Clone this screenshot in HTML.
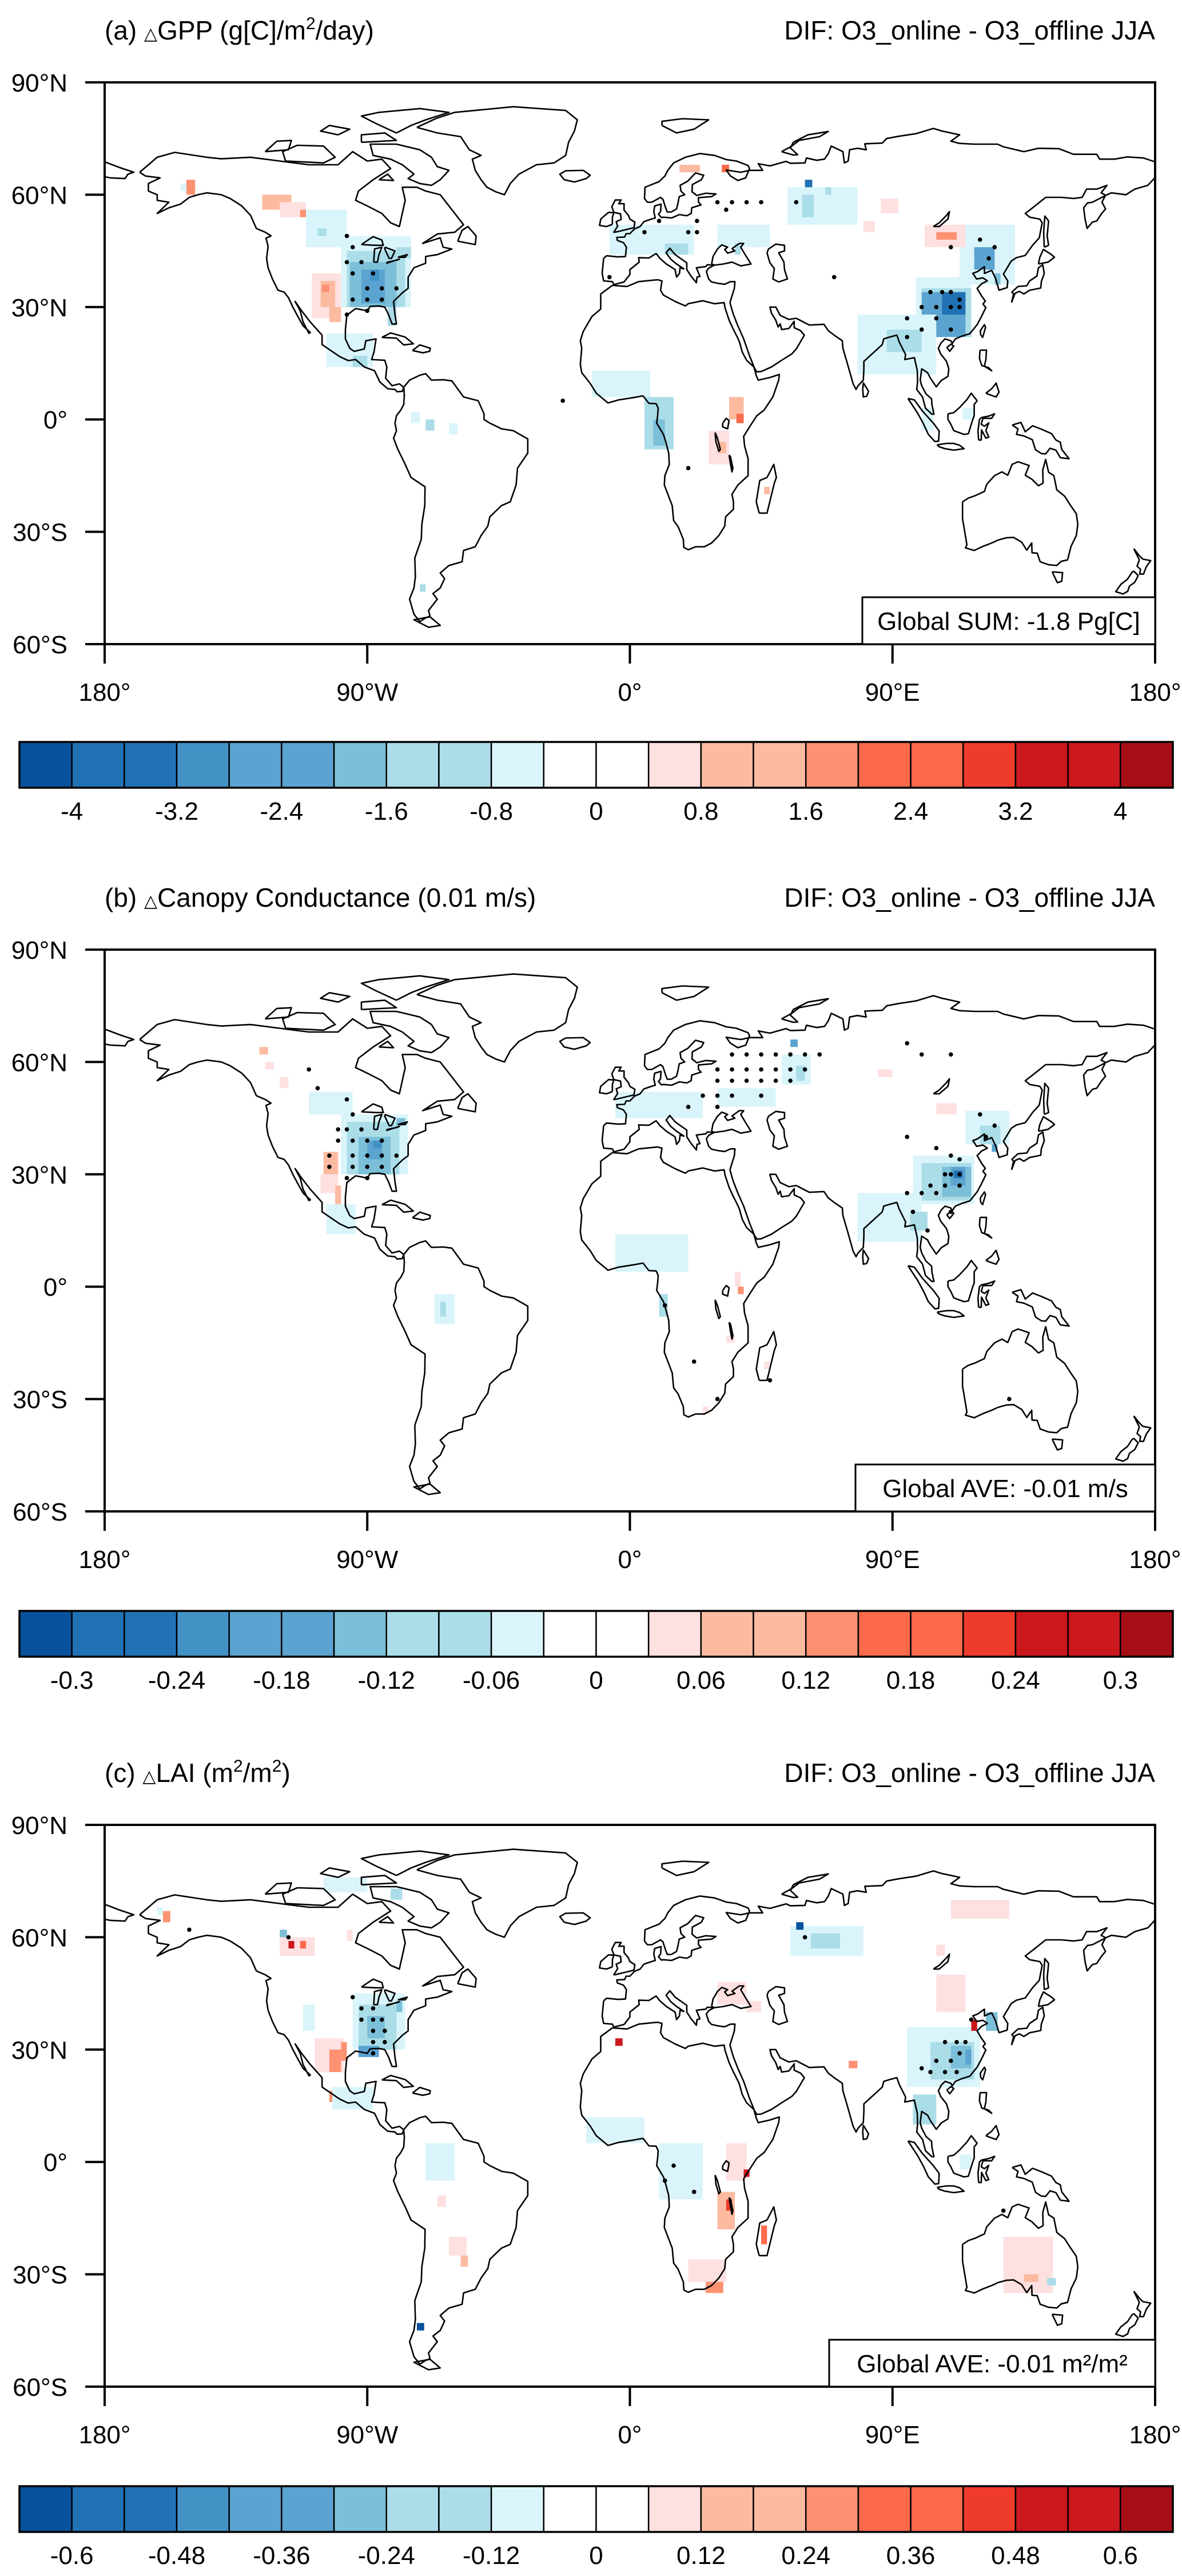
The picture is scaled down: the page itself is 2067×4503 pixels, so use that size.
<!DOCTYPE html>
<html><head><meta charset="utf-8"><title>O3 online - offline JJA differences</title>
<style>
html,body{margin:0;padding:0;background:#fff;}
svg{display:block;font-family:"Liberation Sans",Arial,sans-serif;}
</style></head>
<body>
<svg id="fig" xmlns="http://www.w3.org/2000/svg" width="2067" height="4503" viewBox="0 0 2067 4503"></svg>
<script>
// ---------- data ----------
const latTicks = [90,60,30,0,-30,-60];
const latTickLabels = ["90°N","60°N","30°N","0°","30°S","60°S"];
const lonTicks = [-180,-90,0,90,180];
const lonTickLabels = ["180°","90°W","0°","90°E","180°"];
const cbColors = ['#08519c','#2171b5','#2171b5','#4292c6','#5ba3d0','#5ba3d0','#7cbfd8','#abdde8','#abdde8','#d9f5fb','#ffffff','#ffffff','#fee0e1','#fcbba1','#fcbba1','#fc9272','#fb6a4a','#fb6a4a','#ef3b2c','#cb181d','#cb181d','#a50f15'];
const cbLabelsA = ["-4","-3.2","-2.4","-1.6","-0.8","0","0.8","1.6","2.4","3.2","4"];
const cbLabelsB = ["-0.3","-0.24","-0.18","-0.12","-0.06","0","0.06","0.12","0.18","0.24","0.3"];
const cbLabelsC = ["-0.6","-0.48","-0.36","-0.24","-0.12","0","0.12","0.24","0.36","0.48","0.6"];
const levelMin = [-4, -0.3, -0.6];
const levelStep = [0.4, 0.03, 0.06];

// patches: [lon0, lon1, latS, latN, value]
const gppCells = [
 [-99,-75,30,49,-0.6],[-80,-75,43,46,-1.0],[-97,-77,30,45,-1.0],[-96,-80,30,42,-1.8],[-92,-84,31,40,-2.6],[-89,-86,37,40,-3.0],[-83,-80,25,30,-1.0],
 [-111,-97,46,56,-0.6],[-107,-104,49,51,-1.0],
 [-109,-99,27,39,0.6],[-106,-101,30,37,1.0],[-105.5,-103,34,36,1.8],[-103,-99,26,30,1.0],
 [-126,-116,56,60,1.0],[-120,-111,54,58,0.6],[-113,-111,54,56,1.8],[-152,-149,60,64,1.8],[-154,-152,61,63,-0.6],
 [-104,-88,14,23,-0.6],[-95,-90,14,17,-1.0],
 [-70,-67,-3,0,-1.0],[-62,-59,-4,-1,-0.6],[-75,-72,-1,2,-0.6],[-72,-70,-46,-44,-1.0],
 [-7,22,44,52,-0.6],[12,20,44,47,-1.0],[30,48,46,52,-0.6],[36,38,44,47,-1.0],
 [54,78,52,62,-0.6],[59,63,54,60,-1.0],[60,62.5,62,64,-3.4],[67,69,60,62,-1.0],
 [17,24,66,68,1.0],[31.5,34,66,68,2.2],[86,92,55,59,0.6],[80,84,50,53,0.6],
 [98,117,22,38,-0.6],[100,117,22,35,-1.0],[100,115,22,34,-2.2],[107,115,28,34,-3.4],
 [78,105,12,28,-0.6],[88,100,18,24,-1.0],
 [113,132,36,52,-0.6],[118,125,40,46,-2.2],[125,127,36,39,-1.8],
 [101,115,46,52,0.6],[105,112,48,50,1.8],
 [-13,7,6,13,-0.6],[5,15,-8,6,-1.0],[8,12,-7,0,-1.8],
 [34,39,0,6,1.0],[36.5,39,-1,1.5,2.2],[27,34,-12,-3,0.6],[30,33,-9,-6,1.0],[46,48,-20,-18,1.0],
 [100,104,-3,3,-0.6],[114,118,0,3,-0.6]
];
const gppDots = [[-97,49],[-95,46],[-97,42],[-92,42],[-95,39],[-88,39],[-90,35],[-85,35],[-80,35],[-95,32],[-90,32],[-85,32],[-97,28],[-90,29],
 [30,58],[35,58],[40,58],[45,58],[57,58],[33,56],[10,53],[23,53],[5,50],[20,50],[23,50],[-7,38],[70,38],
 [103,34],[107,34],[110,34],[113,32],[100,30],[105,30],[110,30],[113,30],[95,27],[105,27],[100,24],[110,24],[95,22],[120,48],[125,46],[123,43],[110,46],[-23,5],[20,-13]];

const gcCells = [
 [-110,-95,46,52,-0.045],[-99,-76,30,46,-0.045],[-97,-79,30,44,-0.075],[-93,-82,30,40,-0.135],[-90,-85,34,39,-0.195],[-88,-85,37,39,-0.225],[-80,-77,43,45,-0.135],
 [-105,-100,30,36,0.075],[-106,-100,25,30,0.045],[-101,-99,22,27,0.075],[-125,-122,58,60,0.045],[-120,-117,53,56,0.045],[-127,-124,62,64,0.075],
 [-104,-94,14,22,-0.045],[-67,-60,-10,-2,-0.045],[-65,-63,-8,-4,-0.075],
 [-5,25,45,52,-0.045],[30,50,48,53,-0.045],[52,62,54,62,-0.045],[57,60,55,59,-0.075],[55,57.5,64,66,-0.195],[85,90,56,58,0.045],
 [97,118,22,35,-0.045],[100,117,23,33,-0.075],[107,117,24,32,-0.135],[110,115,27,32,-0.195],[111,114,29,31,-0.255],
 [115,130,38,47,-0.045],[120,127,38,43,-0.075],[124,126,36,38,-0.165],
 [78,100,12,25,-0.045],[96,102,15,20,-0.075],[105,112,46,49,0.045],
 [-5,20,4,14,-0.045],[10,13,-8,-2,-0.075],[37,39,-2,0,0.135],[36,38,0,4,0.045],[33,36,-15,-13,0.045],[46,48,-22,-20,0.045],[25,27,-34,-32,0.045]
];
const gcDots = [[-110,58],[-107,53],[-97,50],[-95,46],[-100,42],[-97,42],[-92,42],[-100,39],[-95,39],[-90,39],[-85,39],[-103,35],[-95,35],[-90,35],[-85,35],[-80,35],[-103,32],[-95,32],[-90,32],[-85,32],[-97,29],[-90,29],
 [35,62],[40,62],[45,62],[50,62],[55,62],[60,62],[65,62],[30,58],[35,58],[40,58],[45,58],[50,58],[55,58],[60,58],[30,55],[35,55],[40,55],[45,55],[50,55],[55,55],[25,51],[30,51],[35,51],[45,51],[20,48],[30,48],[95,65],[100,62],[110,62],[95,40],
 [105,37],[110,35],[113,34],[108,30],[110,30],[113,30],[103,27],[108,27],[113,27],[95,25],[100,25],[105,25],[97,20],[102,15],[110,20],[122,40],[125,43],[120,46],[12,-5],[22,-20],[30,-30],[48,-25],[130,-30]];

const laiCells = [
 [-100,-93,73,75,-0.39],[-105,-90,72,76,-0.09],[-82,-78,70,73,-0.15],[-160,-157.5,64,67,0.27],[-162,-160,66,68,-0.09],
 [-120,-108,55,60,0.09],[-117,-115,57,59,0.55],[-113,-111,57,59,0.33],[-120,-117.5,60,62,-0.27],[-97,-95,59,62,0.09],
 [-95,-77,30,45,-0.09],[-93,-80,30,42,-0.15],[-90,-84,33,39,-0.27],[-93,-86,28,31,-0.33],[-80,-78,40,43,-0.27],
 [-108,-98,24,33,0.09],[-103,-99,24,30,0.27],[-99,-97,27,32,0.27],[-112,-108,35,42,-0.09],[-103,-101,16,19,0.27],
 [-102,-88,14,20,-0.09],
 [-70,-60,-5,5,-0.09],[-62,-56,-25,-20,0.09],[-58,-55.5,-28,-25,0.15],[-73,-70.5,-45,-43,-0.63],[-66,-63,-12,-9,0.09],
 [-15,5,5,12,-0.09],[-5,-2.5,31,33,0.55],[10,25,-10,5,-0.09],[33,40,-5,5,0.09],[39,41,-4,-2,0.55],
 [30,36,-18,-8,0.15],[33,35,-13,-10,0.45],[45,47,-22,-17,0.33],[26,32,-35,-32,0.27],[20,33,-32,-26,0.09],
 [55,80,55,63,-0.09],[62,72,57,61,-0.15],[57,59.5,62,64,-0.63],[110,130,65,70,0.09],[105,108,55,58,0.09],
 [105,115,40,50,0.09],[95,120,20,36,-0.09],[103,118,22,32,-0.15],[110,117,25,31,-0.27],[115,117,26,30,-0.39],
 [122,126,35,40,-0.27],[117,119,35,38,0.55],[75,78,25,27,0.27],[97,105,10,18,-0.15],[113,117,-2,2,-0.09],
 [128,145,-35,-20,0.09],[135,140,-32,-30,0.15],[143,146,-33,-31,-0.15],[30,40,42,48,0.09],[40,45,40,43,0.09]
];
const laiDots = [[-95,44],[-92,41],[-88,41],[-92,38],[-88,38],[-85,38],[-88,35],[-84,35],[-88,32],[-84,32],[-88,29],[-151,62],[-117,60],[60,60],
 [108,32],[112,32],[115,32],[113,29],[105,27],[110,27],[100,25],[103,24],[108,24],[112,24],[117,38],[12,-5],[15,-1],[22,-8],[128,-13]];

// ---------- coastlines [lon,lat] ----------
const coasts = [
 [[-168,66],[-162,70],[-156,71.3],[-145,70],[-140,69.6],[-130,70],[-120,69],[-110,68],[-100,68],[-95,71.5],[-90,69],[-85,69.5],[-82,67],[-88,64],[-93,61],[-94,58.5],[-90,57],[-85,55],[-82,52.5],[-79,51.5],[-78,55],[-77,58.5],[-78,62],[-73,62],[-70,61],[-65,60],[-61,56],[-57,52],[-60,50],[-66,49.5],[-71,47],[-65,48.5],[-64,46],[-61,45.5],[-66,44],[-70,43.5],[-70,41.7],[-74,40.5],[-76,38],[-76,35],[-78,33.8],[-81,31.5],[-80.5,28],[-80,25.5],[-81.5,25.5],[-82.7,28],[-84,30],[-86,30.3],[-89,30.2],[-90,29],[-94,29.6],[-97,27.8],[-97.5,24],[-97.5,21.5],[-96,19],[-94.5,18.2],[-91,18.8],[-90.5,21],[-87,21.5],[-87.7,18],[-88.5,16],[-84,15.8],[-83.3,14],[-83.7,11],[-81.5,9],[-79,9.5],[-77.5,8.6],[-78,7.5],[-79.8,7.4],[-80.5,8],[-83,8.2],[-85.7,10],[-87.5,13],[-91,14],[-94,16],[-96.5,15.7],[-99.5,16.8],[-105.5,20],[-105.5,22.5],[-109.5,26],[-112.5,29],[-114.7,31.5],[-113,29],[-112,26],[-110,23],[-109.5,23.2],[-112,25],[-114,27.8],[-115.5,30],[-117,32.5],[-118.5,34],[-120.6,34.5],[-122.5,37.5],[-124,40.5],[-124.5,43],[-124,46.2],[-124.7,48.4],[-123,49],[-125,50],[-128,51],[-130,54.5],[-133,57],[-137,59],[-140,60],[-145,60.5],[-148,60],[-151,59.3],[-154,57.5],[-158,56.5],[-162,55],[-158,58],[-162,58.5],[-162,60],[-165,61],[-165,63],[-161,64.5],[-166,65],[-168,66]],
 [[-73,78],[-66,80.5],[-60,82],[-40,83.5],[-22,82.5],[-18,80],[-19,77],[-21,74],[-22,70.5],[-26,68.5],[-32,68],[-38,65.5],[-41,63],[-43,60],[-46,60.8],[-49,62],[-51,64],[-53,66.5],[-54,69.5],[-51,70.5],[-55,72],[-58,75.5],[-66,76.5],[-73,78]],
 [[-80,73.5],[-72,72],[-68,70],[-66,67.5],[-62,66.5],[-65,64],[-68,62.5],[-72,63],[-76,64.3],[-74,65.5],[-78,68],[-82,69.5],[-88,70.5],[-89,73.5],[-80,73.5]],
 [[-80,76.5],[-75,78.5],[-70,80],[-62,82],[-72,83],[-86,82],[-92,81],[-87,79],[-80,76.5]],
 [[-118,69],[-105,68.5],[-101,70],[-105,73],[-114,73.2],[-119,71.5],[-118,69]],
 [[-125,71.5],[-121,74.3],[-116,74.5],[-117,72],[-125,71.5]],
 [[-92,74],[-80,74.5],[-84,76.5],[-92,76],[-92,74]],
 [[-100,76],[-96,77.5],[-103,78.5],[-106,77],[-100,76]],
 [[-86,64],[-81,63.8],[-83,65.5],[-86,64]],
 [[-59,47.6],[-53,46.7],[-52.7,49],[-55.5,51.5],[-57.5,50.5],[-59,47.6]],
 [[-85,21.9],[-82,23.1],[-77,22],[-74.2,20.2],[-77.5,19.9],[-80,21.7],[-85,21.9]],
 [[-74.5,18.4],[-72,19.9],[-68.4,19],[-68.6,18.2],[-71,17.8],[-74.5,18.4]],
 [[-77.5,8.6],[-75.5,10.5],[-72,11.8],[-70,12.2],[-68,10.5],[-64,10.6],[-61,10.3],[-57,6],[-52,5],[-50,1.5],[-50,0],[-48,-1],[-44,-2.5],[-40,-3],[-35,-5.2],[-35,-9],[-38.5,-13],[-39,-17.5],[-41,-22],[-44,-23],[-48,-26],[-48.7,-28.5],[-51,-31],[-53,-34],[-57,-35],[-57.5,-38],[-62,-39],[-65,-41],[-63.5,-42.5],[-65,-45],[-67.5,-46.5],[-66,-48],[-69,-51],[-68.5,-52.5],[-70,-53],[-72,-54],[-74,-52],[-75.5,-48],[-74,-45],[-73.5,-42],[-73.7,-37],[-71.5,-32],[-71.3,-28],[-70.3,-23],[-70.2,-18],[-75,-15.5],[-77,-12],[-79.5,-8],[-81,-5],[-80,-3],[-80.5,-1],[-80,1],[-78.5,2.5],[-77.5,4],[-77.3,6.5],[-77.5,8.6]],
 [[-68.5,-52.7],[-65,-55],[-69,-55.5],[-74,-53.5],[-68.5,-52.7]],
 [[-6,35.8],[-10,33.5],[-10,29.5],[-13,27.5],[-16,23.5],[-17,21],[-16.5,19],[-17,14.7],[-16.5,12.5],[-15,11],[-13.5,9.5],[-11.5,7],[-7.5,4.4],[-4,5.2],[1,5.8],[4.5,6.3],[6.5,4.3],[9,4.2],[9.7,3],[9.5,1],[9.2,-1],[11.5,-4],[12.3,-6],[13.3,-9],[13.5,-12],[12,-15],[11.8,-17.5],[14.5,-23],[15,-27],[16.5,-28.6],[18.3,-32],[18.5,-34.2],[20,-34.8],[22.5,-34],[25.5,-34],[28,-33],[30.5,-31],[32.5,-28.5],[32.8,-26],[35.5,-24],[35.5,-22],[35,-20],[37,-17.5],[40.5,-15],[40.5,-10.5],[39.3,-7],[39,-4.5],[41,-2],[43.5,1],[46,2.5],[49,6],[51,10.5],[51.2,12],[48,11.2],[44,10.5],[43.3,11.7],[42.5,14],[40,15.8],[38.5,18],[37.5,20.8],[36.8,22],[35.5,24],[34,26.5],[32.6,29.8],[32.3,31.2],[29,30.9],[25,31.7],[20,30.9],[19,30.3],[15.5,31.5],[11.5,33.2],[10.5,34.5],[11,37],[9.5,37.3],[3,36.8],[-1,35.5],[-6,35.8]],
 [[44.3,-25],[47,-25],[49.5,-17],[50.2,-15.5],[49.3,-12],[47,-15.5],[44.5,-16.3],[43.3,-22],[44.3,-25]],
 [[-9,43],[-9.5,39],[-9,37],[-6,36.8],[-5.5,36],[-2,36.7],[0,38.7],[0,40],[3.2,42],[3,43.2],[6.5,43.1],[9,44.3],[10.3,43],[12.5,41.5],[15.5,40],[16,38],[17,39],[17.2,40.5],[18.5,40.2],[16,41.5],[14,42.8],[12.4,44.5],[13.7,45.7],[15.5,44],[19.5,41.8],[19.5,40],[21,38.2],[22.8,36.5],[23,38],[24,38.2],[22.8,40.5],[26,40.8],[26.5,41.3],[28.9,41.2],[27,40.4],[26.2,39.5],[27,37.5],[28,36.7],[30.5,36.3],[32.5,36.1],[34.5,36.8],[36,36.8],[35.8,35],[35,33],[34.3,31.2],[34.9,29.5],[35.5,28],[37,25],[39,21.5],[41,17],[42.7,13.7],[43.5,12.7],[45,12.8],[48.5,14],[52,15.8],[55.5,17.5],[57,18.8],[59.8,22.5],[58.5,23.7],[56.3,24.5],[56.3,26.2],[54.5,24.3],[52,24],[51.5,25.5],[50.8,24.7],[50,26.5],[48.5,28.4],[48,30],[50,30],[51.5,27.8],[54.5,26.7],[57,27],[61.5,25.2],[66.5,25.4],[68,23.7],[70,22.5],[72.8,21],[73,19],[74.5,15],[76.5,9.5],[77.5,8],[78.2,9],[80,10.5],[80.2,13.5],[80.2,15.5],[82.3,17],[86.5,20],[87,21.5],[89,22],[91.5,22.5],[92.3,20.7],[94.5,17.3],[94.2,16],[97.5,16.5],[98.5,13],[98.6,10],[98.3,8],[100.3,6],[101.3,3],[103.5,1.4],[104.2,1.4],[103.5,4],[103.4,5.5],[101.5,6.8],[100,9],[99.5,10.5],[100,13.5],[102,12.5],[103,11],[105,8.7],[106.7,10.4],[109,11.5],[109.3,13.5],[108.5,15.5],[106.5,17.5],[105.7,19],[106.7,20.5],[108,21.5],[110,21],[110.5,20.3],[111.5,21.5],[114,22.3],[116.5,22.9],[119,25.3],[120.5,27.5],[122,29.9],[121,30.8],[121.8,31.6],[120.5,33],[119,35],[120.5,36.2],[122.5,37],[121,37.8],[118.8,37.5],[118,38.5],[117.5,39],[119.2,39.5],[121.5,40.8],[121.5,39],[124,39.8],[125.3,37.7],[126.5,34.5],[129.3,35.2],[129.5,37],[128,38.8],[129.7,41],[130.7,42.3],[132.5,43.2],[135.5,43.8],[138,46.5],[140.3,48.5],[141.3,52.5],[140.5,53.5],[137,54],[135.5,55],[138,56.5],[142.5,59.3],[148,59.3],[152,59],[155,59.3],[156.5,61.5],[160,61.5],[163.5,62.5],[161.5,60.5],[163,59.9],[161.8,58],[163,56.2],[161.7,55],[160,53],[158.5,52.7],[156.7,51],[156,53.5],[155.5,56.5],[156.8,57.8],[158.5,58],[163.5,60],[165,60.5],[170,60],[173,61.5],[177.5,62.5],[179.9,64.5],[179.9,68.8],[176,69.8],[170.5,70.1],[166,69.5],[161,69.5],[160,70.8],[152,70.8],[147,72.3],[140,72.4],[135,71.5],[128,72.8],[126,73.5],[118,73.5],[113,73.7],[110,74.3],[113,76],[107,77],[104,77.7],[98,76.3],[92,75.6],[88,75],[86.5,73.8],[80.5,73.6],[81,72],[78,72.4],[75.3,72],[74.8,69],[73.5,68.5],[73,71.5],[69,73],[68,71],[66.7,69.5],[64,69.2],[60.5,69.8],[60,68.5],[55,68.4],[53.5,68.9],[48,67.7],[44,68.3],[45.5,66.5],[41,66.5],[38,66],[33,66.6],[34.5,65],[37,63.8],[39.7,64.5],[41,67],[40.5,67.8],[36.5,69],[33,69.4],[29,70.5],[24,71],[19,70],[15,68.5],[13,66.5],[12,65],[10,63.5],[5.2,62],[5,59],[6,58],[7.5,58],[10.5,59.3],[11.3,58.8],[12.3,56.4],[12.8,55.4],[14.2,55.4],[16,56.2],[16.5,57.8],[16.9,59.5],[18.8,60],[17.5,61],[17.2,62.5],[19.8,63.6],[21.5,65],[22.5,65.8],[25.3,65.2],[24.5,64],[21.4,62.7],[21.3,60.8],[22.9,59.8],[26,60.4],[29.5,60.2],[28,59.5],[23.5,59.2],[23.5,58],[24.4,57.3],[21.2,56.5],[21,55],[19.5,54.4],[17,54.7],[14.3,53.8],[11.5,54],[10.8,53.9],[9.8,54.8],[10.5,55.5],[10.7,57.5],[8.5,57],[8.2,55.5],[8.7,53.8],[7,53.4],[4.8,52.8],[3.5,51.5],[1.6,50.9],[0,49.6],[-1.3,49.6],[-1.8,48.7],[-4.5,48.6],[-4.3,47.8],[-2.2,47.2],[-1.2,46],[-1.5,43.5],[-4,43.4],[-8,43.7],[-9,43]],
 [[-180,64.8],[-178,64.5],[-173,64.3],[-172,65.5],[-170,66],[-175,67.3],[-180,68.8]],
 [[28,41.5],[28.5,43.5],[30,45.5],[31.5,46.6],[33.5,46],[32.5,45.4],[33.5,44.4],[36,45],[35,45.6],[37.5,47],[39,47],[38,46],[39.5,44],[41.5,41.5],[38,41],[35,42],[32,41.5],[29,41.2],[28,41.5]],
 [[47,44.5],[47.5,45.5],[50,46.8],[53,46.5],[53,45],[51,44.5],[52.8,42],[53,40],[54,37.5],[51,36.7],[49,37.5],[49.5,40.3],[48,41.8],[47,44.5]],
 [[-5,50],[1.4,51.2],[1.7,52.7],[0,53.5],[-0.5,54.5],[-2,55.9],[-2,57.6],[-3.8,57.6],[-3,58.6],[-5,58.6],[-6.2,56.8],[-5.5,55.3],[-3.2,54.9],[-3,53.4],[-4.7,52.8],[-4.2,51.6],[-5.5,50],[-5,50]],
 [[-6,52.1],[-6,54],[-5.5,55.2],[-7.3,55.3],[-8.5,54.5],[-10,53.5],[-10.4,51.8],[-8,51.5],[-6,52.1]],
 [[-22.5,64],[-24,65.5],[-22,66.4],[-16,66.5],[-13.6,65.2],[-15,64.3],[-19,63.4],[-22.5,64]],
 [[130.8,31.2],[131.5,33.5],[130.9,34],[133,35.5],[136,35.7],[137,37],[139.5,38.3],[140,40.5],[141.5,41.3],[142,39],[141,36.8],[140.8,35.1],[139,34.8],[137,34.5],[135,33.5],[133.5,34.2],[132,33.7],[130.8,31.2]],
 [[140,41.5],[140.5,43.3],[141.7,45.4],[144.5,44],[145.5,43.3],[143.3,42],[140,41.5]],
 [[142,46],[141.8,50],[142.2,54.3],[143.5,53],[143,49],[143.5,46.5],[142,46]],
 [[120.2,22.6],[120.1,23.7],[121.5,25.3],[121.9,24.6],[120.9,21.9],[120.2,22.6]],
 [[108.6,19.2],[110,20.1],[111,19.6],[109.6,18.2],[108.6,19.2]],
 [[79.8,8],[80,9.8],[81.8,7.5],[81.2,6.2],[80,6],[79.8,8]],
 [[95.3,5.6],[97.5,5.2],[100.3,2.2],[104,-1],[106,-3.1],[105.8,-5.8],[104.5,-5.9],[102.3,-4],[100.5,-1],[98.6,1.7],[95.3,5.6]],
 [[109,1.5],[111,1.8],[113,3.2],[115.5,5.3],[117,7],[119,5],[118,4],[118,1],[117.5,0],[116,-3.8],[114.5,-4],[111,-3],[110,-1.3],[109,0],[109,1.5]],
 [[105.3,-6.8],[108.5,-6.4],[111,-6.4],[113,-6.9],[114.5,-7.8],[111,-8.2],[108,-7.8],[106,-7.3],[105.3,-6.8]],
 [[119.5,-5.5],[119.3,-3],[119.8,0],[120.5,0.5],[123,0.9],[125,1.5],[124,0.3],[121,0.3],[120.4,-1.3],[121.5,-1.8],[123,-0.9],[122,-3],[123,-4.7],[122,-5],[120.5,-2.8],[120.4,-5.5],[119.5,-5.5]],
 [[131,-1.5],[134,-0.8],[135.5,-3.3],[138,-1.7],[141,-2.6],[144.5,-3.8],[146,-5.5],[147.5,-6.1],[148,-8],[150.5,-10.5],[147.5,-10.2],[146,-8.2],[144,-7.7],[142.5,-9.2],[141,-9.1],[139,-8.1],[137.9,-5.4],[135,-4.4],[132.5,-4],[133,-2.5],[131,-1.5]],
 [[120,18.5],[122.2,18.5],[122,16],[121.5,14.2],[124,13],[123,13.8],[120.6,14.4],[119.8,16.3],[120,18.5]],
 [[122,7],[124,8.2],[125.5,9.7],[126.5,7.3],[125.5,6],[124,6.4],[122,7]],
 [[114,-22],[114,-26.5],[115.5,-33.5],[115,-34.3],[118,-35],[121,-33.9],[124,-33],[126.2,-32.2],[129,-31.6],[131.5,-31.5],[134.3,-32.8],[136,-34.9],[137.7,-33],[137.8,-35.6],[139.6,-35.7],[140.6,-38],[143.5,-38.8],[146.3,-39],[147.8,-37.9],[150,-37.5],[151.2,-33.9],[153,-31],[153.5,-28],[153,-25.2],[150.8,-22.7],[149,-20.5],[146.3,-18.8],[145.3,-15],[143.5,-14.1],[142.5,-10.7],[141.5,-13.5],[141.6,-17],[140,-17.7],[137.8,-16],[135.5,-14.9],[136.8,-12.3],[133,-11.3],[131,-12],[129.5,-14.9],[127.5,-14],[125,-15],[122.3,-17.3],[121.5,-19.2],[118.5,-20.3],[116,-21],[114,-22]],
 [[144.7,-40.7],[148.3,-40.9],[148,-43.2],[146.5,-43.6],[144.7,-40.7]],
 [[172.7,-34.5],[174.5,-36.3],[175.8,-37.3],[178.5,-37.7],[177,-39.3],[176,-41.3],[174.7,-41.3],[175,-40],[173.8,-39.2],[174.6,-37.5],[172.7,-34.5]],
 [[172.7,-40.5],[174.2,-41.7],[173,-43.5],[171.2,-44.5],[170.6,-45.9],[169,-46.6],[166.5,-46],[168.3,-44],[170.5,-42.7],[172.1,-40.8],[172.7,-40.5]],
 [[52,71.5],[56,70.6],[57.5,70.7],[55,72.5],[56,74],[61,76],[68,76.9],[65,75.5],[58,74.5],[55.5,73],[52,71.5]],
 [[11,78.5],[16,76.5],[22,77.5],[27,80],[18,80.3],[11,79.6],[11,78.5]],
 [[-92,46.7],[-88,48.8],[-85,47.9],[-84.5,46.5],[-87,46.5],[-92,46.7]],
 [[-87.8,42],[-87.5,45.5],[-85,46],[-86,44],[-86.5,42],[-87.8,42]],
 [[-84,46],[-80.5,45],[-81.7,43],[-82.5,43],[-84,45.5],[-84,46]],
 [[-83.5,41.7],[-79,42.8],[-80,42.5],[-83,42],[-83.5,41.7]],
 [[-79.5,43.3],[-76.3,44],[-77,43.3],[-79.5,43.3]],
 [[104,51.5],[106,52.5],[108.5,54.5],[109.5,55.5],[109,53.5],[106,51.5],[104,51.5]],
 [[31.8,-1],[33,0.3],[34,-0.3],[33.5,-2.5],[31.8,-2],[31.8,-1]],
 [[29.2,-3.5],[29.5,-6],[30.5,-8.5],[31,-8],[30,-5],[29.2,-3.5]],
 [[34,-9.5],[34.5,-12],[35,-14],[35.3,-13],[34.5,-10],[34,-9.5]]
];

// ---------- layout ----------
const panels = [
 {id:'a', top:144, cbTop:1297, title:'gpp', labels:cbLabelsA, cells:gppCells, dots:gppDots, box:'Global SUM: -1.8 Pg[C]', boxLeft:1508},
 {id:'b', top:1660, cbTop:2816, title:'gc', labels:cbLabelsB, cells:gcCells, dots:gcDots, box:'Global AVE: -0.01 m/s', boxLeft:1496},
 {id:'c', top:3190, cbTop:4346, title:'lai', labels:cbLabelsC, cells:laiCells, dots:laiDots, box:'Global AVE: -0.01 m²/m²', boxLeft:1450}
];
const X0=183, X1=2020, MAPH=982, CBX0=34, CBX1=2051, CBH=80;
const NS='http://www.w3.org/2000/svg';
const svg=document.getElementById('fig');
function el(tag,attrs,parent){const e=document.createElementNS(NS,tag);for(const k in attrs)e.setAttribute(k,attrs[k]);(parent||svg).appendChild(e);return e;}
function colorFor(v,pi){let k=Math.floor((v-levelMin[pi])/levelStep[pi])+2;k=Math.max(1,Math.min(22,k));return cbColors[k-1];}

panels.forEach((p,pi)=>{
 const xs=lon=>X0+(lon+180)*(X1-X0)/360;
 const ys=lat=>p.top+(90-lat)*MAPH/150;
 const g=el('g',{});
 
 
 // titles
 const t=el('text',{x:X0,y:p.top-75,'font-size':46,fill:'#000'},g);
 
 
 if(p.title==='gpp'){t.innerHTML='(a) <tspan font-size="30">△</tspan>GPP (g[C]/m<tspan font-size="30" dy="-18">2</tspan><tspan dy="18">/day)</tspan>';}
 else if(p.title==='gc'){t.innerHTML='(b) <tspan font-size="30">△</tspan>Canopy Conductance (0.01 m/s)';}
 else {t.innerHTML='(c) <tspan font-size="30">△</tspan>LAI (m<tspan font-size="30" dy="-18">2</tspan><tspan dy="18">/m</tspan><tspan font-size="30" dy="-18">2</tspan><tspan dy="18">)</tspan>';}
 const t2=el('text',{x:X1,y:p.top-75,'font-size':46,'text-anchor':'end',fill:'#000'},g);
 t2.textContent='DIF: O3_online - O3_offline JJA';
 
 
 // clip
 const defs=el('defs',{},g);
 const cp=el('clipPath',{id:'clip'+p.id},defs);
 el('rect',{x:X0,y:p.top,width:X1-X0,height:MAPH},cp);
 const mg=el('g',{'clip-path':'url(#clip'+p.id+')'},g);
 
 
 // cells
 p.cells.forEach(c=>{
  const r=el('rect',{x:xs(c[0]),y:ys(c[3]),width:xs(c[1])-xs(c[0]),height:ys(c[2])-ys(c[3]),fill:colorFor(c[4],pi)},mg);
  
  
 });
 // coastlines
 coasts.forEach(poly=>{
  const d='M'+poly.map(q=>xs(q[0]).toFixed(1)+','+ys(q[1]).toFixed(1)).join('L');
  const path=el('path',{d:d,fill:'none',stroke:'#000','stroke-width':2.6,'stroke-linejoin':'round'},mg);
  
  
 });
 // stipples
 p.dots.forEach(q=>{
  const c=el('circle',{cx:xs(q[0]),cy:ys(q[1]),r:3.8,fill:'#000'},mg);
  
  
 });
 // frame
 const fr=el('rect',{x:X0,y:p.top,width:X1-X0,height:MAPH,fill:'none',stroke:'#000','stroke-width':4},g);
 
 
 // lat ticks
 latTicks.forEach((lat,i)=>{
  el('line',{x1:149,x2:X0,y1:ys(lat),y2:ys(lat),stroke:'#000','stroke-width':4},g);
  const tl=el('text',{x:118,y:ys(lat)+16,'font-size':44,'text-anchor':'end'},g);
  tl.textContent=latTickLabels[i];
  
  
 });
 lonTicks.forEach((lon,i)=>{
  el('line',{x1:xs(lon),x2:xs(lon),y1:p.top+MAPH,y2:p.top+MAPH+34,stroke:'#000','stroke-width':4},g);
  const tl=el('text',{x:xs(lon),y:p.top+MAPH+99,'font-size':44,'text-anchor':'middle'},g);
  tl.textContent=lonTickLabels[i];
  
  
 });
 // global box
 const bx=el('rect',{x:p.boxLeft,y:p.top+MAPH-82,width:X1-p.boxLeft,height:82,fill:'#fff',stroke:'#000','stroke-width':3},g);
 
 
 const bt=el('text',{x:(p.boxLeft+X1)/2,y:p.top+MAPH-25,'font-size':44,'text-anchor':'middle'},g);
 bt.textContent=p.box;
 
 
 // colorbar
 const cbg=el('g',{},g);
 
 
 const bw=(CBX1-CBX0)/cbColors.length;
 cbColors.forEach((col,i)=>{
  const r=el('rect',{x:CBX0+i*bw,y:p.cbTop,width:bw,height:CBH,fill:col,stroke:'#000','stroke-width':2.5},cbg);
  
  
 });
 el('rect',{x:CBX0,y:p.cbTop,width:CBX1-CBX0,height:CBH,fill:'none',stroke:'#000','stroke-width':3.5},cbg);
 p.labels.forEach((lab,i)=>{
  const tl=el('text',{x:CBX0+(1+2*i)*bw,y:p.cbTop+CBH+56,'font-size':44,'text-anchor':'middle'},cbg);
  tl.textContent=lab;
  
  
 });
});
</script>
</body></html>
